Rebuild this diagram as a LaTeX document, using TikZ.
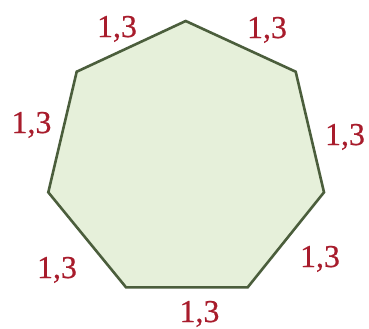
\documentclass[tikz,border=0pt]{standalone}
\usepackage{fontspec}
\setmainfont{Liberation Serif}
\definecolor{fillgreen}{HTML}{E6F0DA}
\definecolor{edgegreen}{HTML}{4B5E3C}
\definecolor{labelred}{HTML}{A81C2C}
\tikzset{
  sidelabel/.style={text=labelred, font=\fontsize{32}{33}\selectfont\addfontfeature{FakeBold=0.6}, inner sep=0pt, anchor=base},
  polyedge/.style={draw=edgegreen, line width=2.6bp, fill=fillgreen, line join=miter}
}
\begin{document}
\begin{tikzpicture}[x=1bp,y=-1bp]
\useasboundingbox (0,0) rectangle (369,329);
\coordinate (v1) at (185.7,21);
\coordinate (v2) at (295.7,71.7);
\coordinate (v3) at (324,192.3);
\coordinate (v4) at (247.7,287.3);
\coordinate (v5) at (126,287.3);
\coordinate (v6) at (48.3,192.3);
\coordinate (v7) at (76.7,71.7);
\draw[polyedge] (v1) -- (v2) -- (v3) -- (v4) -- (v5) -- (v6) -- (v7) -- cycle;
\node[sidelabel] (l1) at (117,37) {1,3};
\node[sidelabel] (l2) at (267,38) {1,3};
\node[sidelabel] (l3) at (345,145) {1,3};
\node[sidelabel] (l4) at (320,267) {1,3};
\node[sidelabel] (l5) at (199.5,322) {1,3};
\node[sidelabel] (l6) at (57,278) {1,3};
\node[sidelabel] (l7) at (31.5,133) {1,3};
\end{tikzpicture}
\end{document}
